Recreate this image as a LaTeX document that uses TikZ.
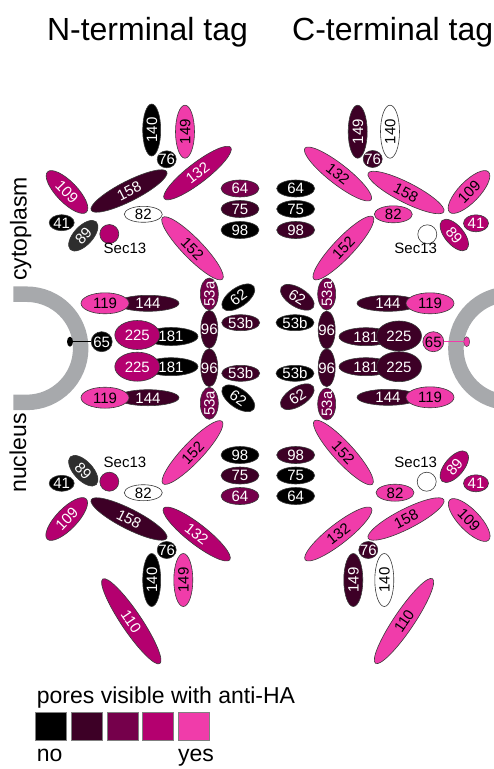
\documentclass[tikz,border=0pt]{standalone}
\usepackage{fontspec}
\setmainfont{Liberation Sans}
\usetikzlibrary{shapes.geometric}
\definecolor{c0}{HTML}{000000}
\definecolor{c1}{HTML}{3D0026}
\definecolor{c2}{HTML}{75004B}
\definecolor{c3}{HTML}{B4006F}
\definecolor{c4}{HTML}{F03CAA}
\definecolor{dg}{HTML}{2E2E2E}
\definecolor{ringc}{HTML}{A7A9AC}
\definecolor{edgec}{HTML}{3A3A3A}
\newcommand\zt[1]{\smash{\makebox[0pt]{\raisebox{-0.358em}{#1}}}}
\begin{document}
\begin{tikzpicture}[x=1pt,y=-1pt,
  blob/.style={ellipse, draw=edgec, line width=0.6pt, inner sep=0pt, outer sep=0pt, font=\fontsize{15}{15}\selectfont},
  sz/.style 2 args={minimum width=#1pt, minimum height=#2pt},
  f0/.style={fill=c0,text=white},
  f1/.style={fill=c1,text=white},
  f2/.style={fill=c2,text=white},
  f3/.style={fill=c3,text=white},
  f4/.style={fill=c4,text=black},
  fw/.style={fill=white,text=black},
  fg/.style={fill=dg,text=white},
  sec/.style={circle, draw=edgec, line width=0.6pt, inner sep=0pt, minimum size=19pt},
  lab/.style={font=\fontsize{15}{15}\selectfont, anchor=base},
  ring/.style={draw=ringc, line width=15.5pt},
  title/.style={font=\fontsize{32}{32}\selectfont, anchor=base},
  side/.style={font=\fontsize{23}{23}\selectfont, anchor=base, rotate=90},
  leg/.style={draw=gray, line width=0.8pt},
]
\useasboundingbox (0,0) rectangle (494,769);

% titles
\node[title] (tN) at (147.5,40) {N-terminal tag};
\node[title] (tC) at (392.7,40) {C-terminal tag};
\node[side] (cyto) at (26.7,229) {cytoplasm};
\node[side] (nucl) at (26,453) {nucleus};

% membrane rings
\draw[ring] (13.3,294.2) -- (26.6,294.2) arc[start angle=90, end angle=-90, radius=54.1pt] -- (13.3,402.4);
\draw[ring] (510,348.3) circle[radius=54.1pt];

% ===== top-left =====
\node[blob,f0,sz={52}{18},rotate=90] (n140tl) at (151.7,130) {\zt{140}};
\node[blob,f4,sz={53}{19},rotate=90] (n149tl) at (185,131.7) {\zt{149}};
\node[blob,f0,sz={19}{17}] (n76tl) at (166.7,159.3) {\zt{76}};
\node[blob,f3,sz={84}{20},rotate=37.6] (n132tl) at (197.5,173) {\zt{132}};
\node[blob,f1,sz={85}{20},rotate=27] (n158tl) at (129,191) {\zt{158}};
\node[blob,f3,sz={56}{21},rotate=-46] (n109tl) at (67,192) {\zt{109}};
\node[blob,f0,sz={25}{16}] (n41tl) at (61.7,222.7) {\zt{41}};
\node[blob,fg,sz={38}{19},rotate=47] (n89tl) at (83.3,235.7) {\zt{89}};
\node[sec,fill=c3] (s13tl) at (109.3,234) {};
\node[lab] (l13tl) at (125,253.3) {Sec13};
\node[blob,fw,sz={38}{16}] (n82tl) at (143.3,214.3) {\zt{82}};
\node[blob,f4,sz={86}{20},rotate=-45.8] (n152tl) at (192.5,248.3) {\zt{152}};

% ===== top-right =====
\node[blob,f1,sz={53}{19},rotate=90] (n149tr) at (357.7,131.7) {\zt{149}};
\node[blob,fw,sz={53}{19},rotate=90] (n140tr) at (390,131.7) {\zt{140}};
\node[blob,f1,sz={19}{17}] (n76tr) at (372.7,159) {\zt{76}};
\node[blob,f4,sz={84}{20},rotate=-38] (n132tr) at (338,174) {\zt{132}};
\node[blob,f4,sz={85}{20},rotate=-27] (n158tr) at (406,192.5) {\zt{158}};
\node[blob,f4,sz={56}{21},rotate=46] (n109tr) at (469,192) {\zt{109}};
\node[blob,f3,sz={25}{17}] (n41tr) at (476,223.3) {\zt{41}};
\node[blob,f3,sz={38}{19},rotate=-50] (n89tr) at (454.3,235) {\zt{89}};
\node[sec,fill=white] (s13tr) at (427.3,234.3) {};
\node[lab] (l13tr) at (415.7,253.3) {Sec13};
\node[blob,f4,sz={38}{17}] (n82tr) at (393.3,214.3) {\zt{82}};
\node[blob,f4,sz={86}{20},rotate=46.5] (n152tr) at (343.4,248) {\zt{152}};

% ===== centre columns top =====
\node[blob,f2,sz={38}{17}] (n64tl) at (240,188.5) {\zt{64}};
\node[blob,f1,sz={38}{17}] (n75tl) at (240,209) {\zt{75}};
\node[blob,f0,sz={38}{17}] (n98tl) at (240,230) {\zt{98}};
\node[blob,f0,sz={38}{17}] (n64tr) at (295.7,188.5) {\zt{64}};
\node[blob,f0,sz={38}{17}] (n75tr) at (295.7,209) {\zt{75}};
\node[blob,f1,sz={38}{17}] (n98tr) at (295.7,230) {\zt{98}};

% ===== centre columns bottom =====
\node[blob,f0,sz={38}{17}] (n98bl) at (240,455) {\zt{98}};
\node[blob,f1,sz={38}{17}] (n75bl) at (240,475.5) {\zt{75}};
\node[blob,f2,sz={38}{17}] (n64bl) at (240,496) {\zt{64}};
\node[blob,f1,sz={38}{17}] (n98br) at (295.7,455) {\zt{98}};
\node[blob,f0,sz={38}{17}] (n75br) at (295.7,475.5) {\zt{75}};
\node[blob,f0,sz={38}{17}] (n64br) at (295.7,496) {\zt{64}};

% ===== spoke ring left =====
\node[blob,f2,sz={32}{18},rotate=90] (a1l) at (209.3,294) {\zt{53a}};
\node[blob,f0,sz={38}{19},rotate=35] (g1l) at (238.3,297.3) {\zt{62}};
\node[blob,f1,sz={17}{38}] (d1l) at (209.3,329.3) {\zt{96}};
\node[blob,f1,sz={38}{16}] (b1l) at (240.7,322.7) {\zt{53b}};
\node[blob,f1,sz={17}{38}] (d2l) at (209.3,367.7) {\zt{96}};
\node[blob,f1,sz={38}{16}] (b2l) at (240.7,373.3) {\zt{53b}};
\node[blob,f0,sz={38}{19},rotate=-35] (g2l) at (238.3,398.3) {\zt{62}};
\node[blob,f2,sz={32}{18},rotate=90] (a2l) at (209.3,403.3) {\zt{53a}};

% ===== spoke ring right =====
\node[blob,f1,sz={38}{19},rotate=-32] (g1r) at (297.3,297.3) {\zt{62}};
\node[blob,f2,sz={32}{18},rotate=90] (a1r) at (326.7,294) {\zt{53a}};
\node[blob,f0,sz={38}{16}] (b1r) at (295,322.7) {\zt{53b}};
\node[blob,f1,sz={17}{38}] (d1r) at (326.7,330) {\zt{96}};
\node[blob,f1,sz={17}{38}] (d2r) at (326.7,367.7) {\zt{96}};
\node[blob,f0,sz={38}{16}] (b2r) at (295,373.3) {\zt{53b}};
\node[blob,f1,sz={38}{19},rotate=32] (g2r) at (297.3,396.7) {\zt{62}};
\node[blob,f2,sz={32}{18},rotate=90] (a2r) at (326.7,404) {\zt{53a}};

% ===== inner ring left =====
\node[blob,f1,sz={62}{16}] (n144ul) at (148,303.3) {\zt{144}};
\node[blob,f4,sz={48}{21}] (n119ul) at (105,303.3) {\zt{119}};
\node[blob,f0,sz={54}{18}] (n181ul) at (171,336.5) {\zt{181}};
\node[blob,f3,sz={45}{29}] (n225ul) at (137.3,335) {\zt{225}};
\node[blob,f0,sz={54}{18}] (n181ll) at (171,366.7) {\zt{181}};
\node[blob,f3,sz={45}{29}] (n225ll) at (137.3,366.7) {\zt{225}};
\node[blob,f1,sz={62}{16}] (n144ll) at (148,397.7) {\zt{144}};
\node[blob,f4,sz={48}{21}] (n119ll) at (105,397.7) {\zt{119}};
\node[blob,f0,sz={21}{20}] (n65l) at (101.7,341.7) {\zt{65}};
\node[ellipse,fill=c0,inner sep=0pt,minimum width=6pt,minimum height=10pt] (dotl) at (70,341.7) {};
\draw[c0,line width=1pt] (dotl) -- (n65l);

% ===== inner ring right =====
\node[blob,f1,sz={62}{16}] (n144ur) at (388,303.3) {\zt{144}};
\node[blob,f4,sz={48}{21}] (n119ur) at (430,303.3) {\zt{119}};
\node[blob,f1,sz={54}{18}] (n181ur) at (366,336.7) {\zt{181}};
\node[blob,f1,sz={45}{30}] (n225ur) at (399,336) {\zt{225}};
\node[blob,f1,sz={54}{18}] (n181lr) at (366,366.7) {\zt{181}};
\node[blob,f1,sz={45}{30}] (n225lr) at (399,366.7) {\zt{225}};
\node[blob,f1,sz={62}{16}] (n144lr) at (388,397.3) {\zt{144}};
\node[blob,f4,sz={48}{21}] (n119lr) at (430,397.3) {\zt{119}};
\node[blob,f4,sz={21}{20}] (n65r) at (433.3,341.7) {\zt{65}};
\node[ellipse,fill=c4,draw=edgec,line width=0.4pt,inner sep=0pt,minimum width=6pt,minimum height=10pt] (dotr) at (466.7,341.7) {};
\draw[c4,line width=1pt] (n65r) -- (dotr);

% ===== bottom-left =====
\node[blob,f4,sz={86}{20},rotate=46.5] (n152bl) at (192.5,452.5) {\zt{152}};
\node[blob,fg,sz={38}{19},rotate=-47] (n89bl) at (83.3,470.7) {\zt{89}};
\node[blob,f0,sz={25}{16}] (n41bl) at (61.7,483.3) {\zt{41}};
\node[sec,fill=c3] (s13bl) at (109.3,481.7) {};
\node[lab] (l13bl) at (125,467) {Sec13};
\node[blob,fw,sz={38}{16}] (n82bl) at (143.3,492.7) {\zt{82}};
\node[blob,f3,sz={56}{21},rotate=46] (n109bl) at (66.7,519) {\zt{109}};
\node[blob,f1,sz={85}{20},rotate=-27] (n158bl) at (129,519) {\zt{158}};
\node[blob,f3,sz={84}{20},rotate=-38] (n132bl) at (196.7,534) {\zt{132}};
\node[blob,f0,sz={19}{17}] (n76bl) at (166.7,550) {\zt{76}};
\node[blob,f0,sz={53}{18},rotate=90] (n140bl) at (151.7,580) {\zt{140}};
\node[blob,f4,sz={53}{19},rotate=90] (n149bl) at (183.3,580) {\zt{149}};
\node[blob,f3,sz={102}{20},rotate=-56] (n110bl) at (131.3,621.3) {\zt{110}};

% ===== bottom-right =====
\node[blob,f4,sz={86}{20},rotate=-47.5] (n152br) at (343.4,452.5) {\zt{152}};
\node[sec,fill=white] (s13br) at (426.7,481.7) {};
\node[lab] (l13br) at (415.7,467) {Sec13};
\node[blob,f3,sz={38}{19},rotate=50] (n89br) at (454.3,466.7) {\zt{89}};
\node[blob,f3,sz={25}{17}] (n41br) at (476,483.3) {\zt{41}};
\node[blob,f4,sz={38}{17}] (n82br) at (395,492.7) {\zt{82}};
\node[blob,f4,sz={56}{21},rotate=-46] (n109br) at (469.2,520) {\zt{109}};
\node[blob,f4,sz={85}{20},rotate=27] (n158br) at (406,519) {\zt{158}};
\node[blob,f4,sz={84}{20},rotate=38] (n132br) at (338.3,534) {\zt{132}};
\node[blob,f1,sz={19}{17}] (n76br) at (368.3,550) {\zt{76}};
\node[blob,f1,sz={53}{19},rotate=90] (n149br) at (353.3,580) {\zt{149}};
\node[blob,fw,sz={53}{19},rotate=90] (n140br) at (384.3,580) {\zt{140}};
\node[blob,f4,sz={102}{20},rotate=56] (n110br) at (404,621) {\zt{110}};

% ===== legend =====
\node[font=\fontsize{23}{23}\selectfont, anchor=base west, inner sep=0pt] (legt) at (36.7,703.3) {pores visible with anti-HA};
\fill[c0] (35.7,712.3) rectangle (66.7,740); \draw[leg] (35.7,712.3) rectangle (66.7,740);
\fill[c1] (71.3,712.3) rectangle (102.3,740); \draw[leg] (71.3,712.3) rectangle (102.3,740);
\fill[c2] (106.9,712.3) rectangle (137.9,740); \draw[leg] (106.9,712.3) rectangle (137.9,740);
\fill[c3] (142.5,712.3) rectangle (173.5,740); \draw[leg] (142.5,712.3) rectangle (173.5,740);
\fill[c4] (178.1,712.3) rectangle (209.1,740); \draw[leg] (178.1,712.3) rectangle (209.1,740);
\node[font=\fontsize{23}{23}\selectfont, anchor=base west, inner sep=0pt] (lno) at (36.7,761.7) {no};
\node[font=\fontsize{23}{23}\selectfont, anchor=base west, inner sep=0pt] (lyes) at (178,761.7) {yes};
\end{tikzpicture}
\end{document}
